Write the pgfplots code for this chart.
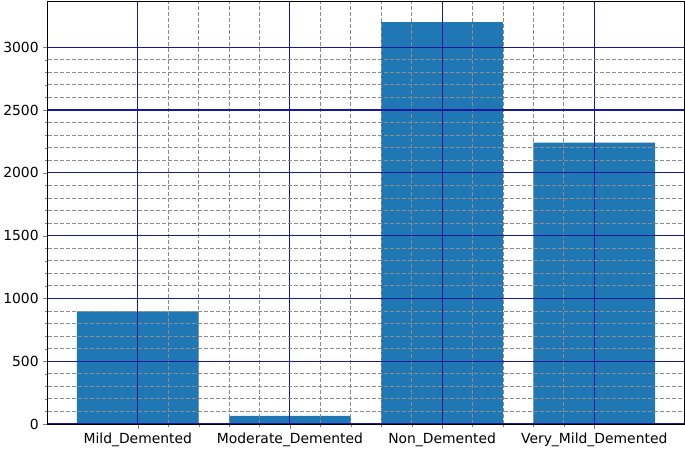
\documentclass[border=0pt]{standalone}
\usepackage{fontspec}
\setmainfont{DejaVu Sans}
\usepackage{pgfplots}
\pgfplotsset{compat=1.18}
\definecolor{barblue}{HTML}{1F77B4}
\definecolor{gridnavy}{RGB}{25,25,160}
\begin{document}
\begin{tikzpicture}
\path[use as bounding box] (-48pt,-29pt) rectangle (637pt,424pt);
\begin{axis}[
  at={(0,0)}, anchor=south west,
  scale only axis,
  width=636pt, height=422pt,
  xmin=-0.59, xmax=3.59,
  ymin=0, ymax=3360,
  xtick={0,1,2,3},
  xticklabels={Mild\_Demented,Moderate\_Demented,Non\_Demented,Very\_Mild\_Demented},
  ytick={0,500,1000,1500,2000,2500,3000},
  yticklabels={0,500,1000,1500,2000,2500,3000},
  minor x tick num=4,
  minor y tick num=4,
  tick align=outside,
  major tick length=4.8pt,
  minor tick length=2.8pt,
  tick pos=left,
  xticklabel style={font=\fontsize{13.9}{16}\selectfont, yshift=-1pt},
  yticklabel style={font=\fontsize{13.9}{16}\selectfont, xshift=-1pt},
  grid=both,
  major grid style={draw=gridnavy, line width=1.1pt},
  minor grid style={draw=gray!90, line width=0.8pt, dash pattern=on 4pt off 2pt},
  axis on top,
  axis line style={black, line width=1pt},
  ybar, bar width=0.8, bar shift=0pt,
]
\addplot[fill=barblue, draw=none] coordinates {
  (0,896) (1,64) (2,3200) (3,2240)
};
\end{axis}
\end{tikzpicture}
\end{document}
